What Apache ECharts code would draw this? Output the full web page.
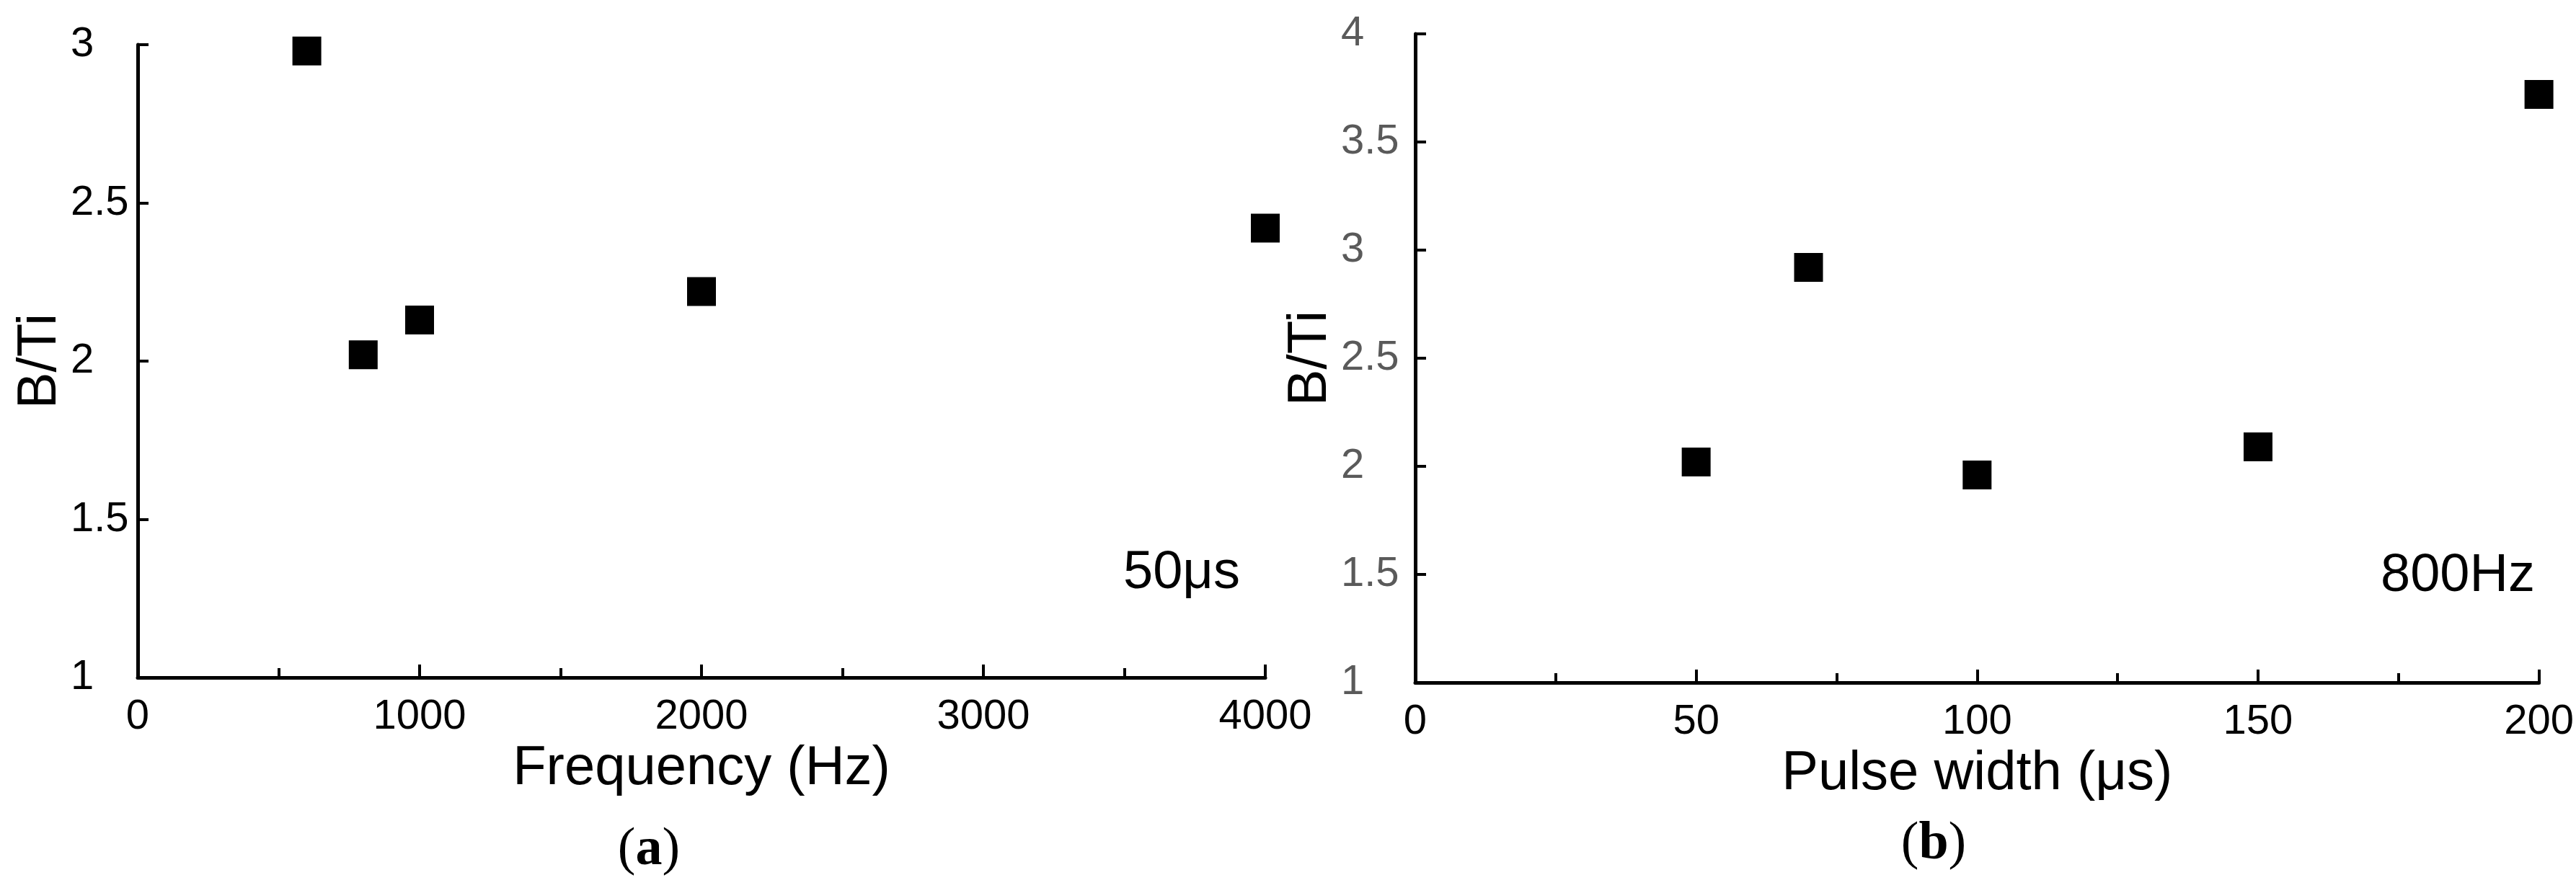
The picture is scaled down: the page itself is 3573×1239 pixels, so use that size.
<!DOCTYPE html>
<html>
<head>
<meta charset="utf-8">
<script src="https://cdn.jsdelivr.net/npm/echarts@6/dist/echarts.min.js"></script>
<style>
  html, body { margin: 0; padding: 0; background: #fff; }
  #main { width: 3573px; height: 1239px; }
</style>
</head>
<body>
<div id="main"></div>
<script>
  // (a) B/Ti vs frequency at 50 us
  const freqHz = [600, 800, 1000, 2000, 4000];
  const ratioA = [2.98, 2.02, 2.13, 2.22, 2.42];
  // (b) B/Ti vs pulse width at 800 Hz
  const pulseUs = [50, 70, 100, 150, 200];
  const ratioB = [2.02, 2.92, 1.96, 2.09, 3.72];

  const font = "'Liberation Sans', Arial, sans-serif";
  const serif = "'Liberation Serif', 'Times New Roman', serif";

  function pairs(xs, ys) {
    return xs.map(function (x, i) { return [x, ys[i]]; });
  }

  function xAxisOf(idx, max, interval, name, gap) {
    return {
      gridIndex: idx,
      type: 'value',
      min: 0,
      max: max,
      interval: interval,
      name: name,
      nameLocation: 'middle',
      nameGap: gap,
      nameTextStyle: { fontFamily: font, fontSize: 76, color: '#000' },
      axisLine: { show: true, onZero: false, lineStyle: { color: '#000', width: 5 } },
      axisTick: { show: true, inside: true, length: 18, lineStyle: { color: '#000', width: 4 } },
      minorTick: { show: true, splitNumber: 2, length: 13, lineStyle: { color: '#000', width: 4 } },
      axisLabel: {
        fontFamily: font, fontSize: 58, color: '#000', margin: 26,
        formatter: function (v) { return String(v); }
      },
      splitLine: { show: false }
    };
  }

  function yAxisOf(idx, min, max, labelColor, margin, gap) {
    return {
      gridIndex: idx,
      type: 'value',
      min: min,
      max: max,
      interval: 0.5,
      name: 'B/Ti',
      nameLocation: 'middle',
      nameGap: gap,
      nameTextStyle: { fontFamily: font, fontSize: 76, color: '#000' },
      axisLine: { show: true, onZero: false, lineStyle: { color: '#000', width: 5 } },
      axisTick: { show: true, inside: true, length: 15, lineStyle: { color: '#000', width: 4 } },
      axisLabel: {
        fontFamily: font, fontSize: 58, color: labelColor, margin: margin, align: 'left',
        formatter: function (v) { return String(v); }
      },
      splitLine: { show: false }
    };
  }

  function panelTag(letter, x, y) {
    return {
      type: 'text', x: x, y: y,
      style: {
        text: '({b|' + letter + '})',
        font: '74px ' + serif,
        fill: '#000',
        align: 'center',
        verticalAlign: 'middle',
        rich: { b: { fontFamily: serif, fontSize: 74, fontWeight: 'bold', fill: '#000' } }
      }
    };
  }

  const chart = echarts.init(document.getElementById('main'));
  chart.setOption({
    backgroundColor: '#fff',
    animation: false,
    grid: [
      { left: 191, top: 62, width: 1564, height: 878 },
      { left: 1963, top: 47, width: 1564, height: 900 }
    ],
    xAxis: [
      xAxisOf(0, 4000, 1000, 'Frequency (Hz)', 74),
      xAxisOf(1, 200, 50, 'Pulse width (\u03bcs)', 74)
    ],
    yAxis: [
      yAxisOf(0, 1, 3, '#000', 93, 96),
      yAxisOf(1, 1, 4, '#5a5a5a', 103, 96)
    ],
    series: [
      {
        type: 'scatter',
        xAxisIndex: 0,
        yAxisIndex: 0,
        symbol: 'rect',
        symbolSize: 40,
        itemStyle: { color: '#000', opacity: 1 },
        data: pairs(freqHz, ratioA)
      },
      {
        type: 'scatter',
        xAxisIndex: 1,
        yAxisIndex: 1,
        symbol: 'rect',
        symbolSize: 40,
        itemStyle: { color: '#000', opacity: 1 },
        data: pairs(pulseUs, ratioB)
      }
    ],
    graphic: [
      {
        type: 'text', x: 1639, y: 796,
        style: { text: '50\u03bcs', font: '74px ' + font, fill: '#000', align: 'center', verticalAlign: 'middle' }
      },
      {
        type: 'text', x: 3409, y: 800,
        style: { text: '800Hz', font: '74px ' + font, fill: '#000', align: 'center', verticalAlign: 'middle' }
      },
      panelTag('a', 900, 1180),
      panelTag('b', 2682, 1172)
    ]
  });
</script>
</body>
</html>
